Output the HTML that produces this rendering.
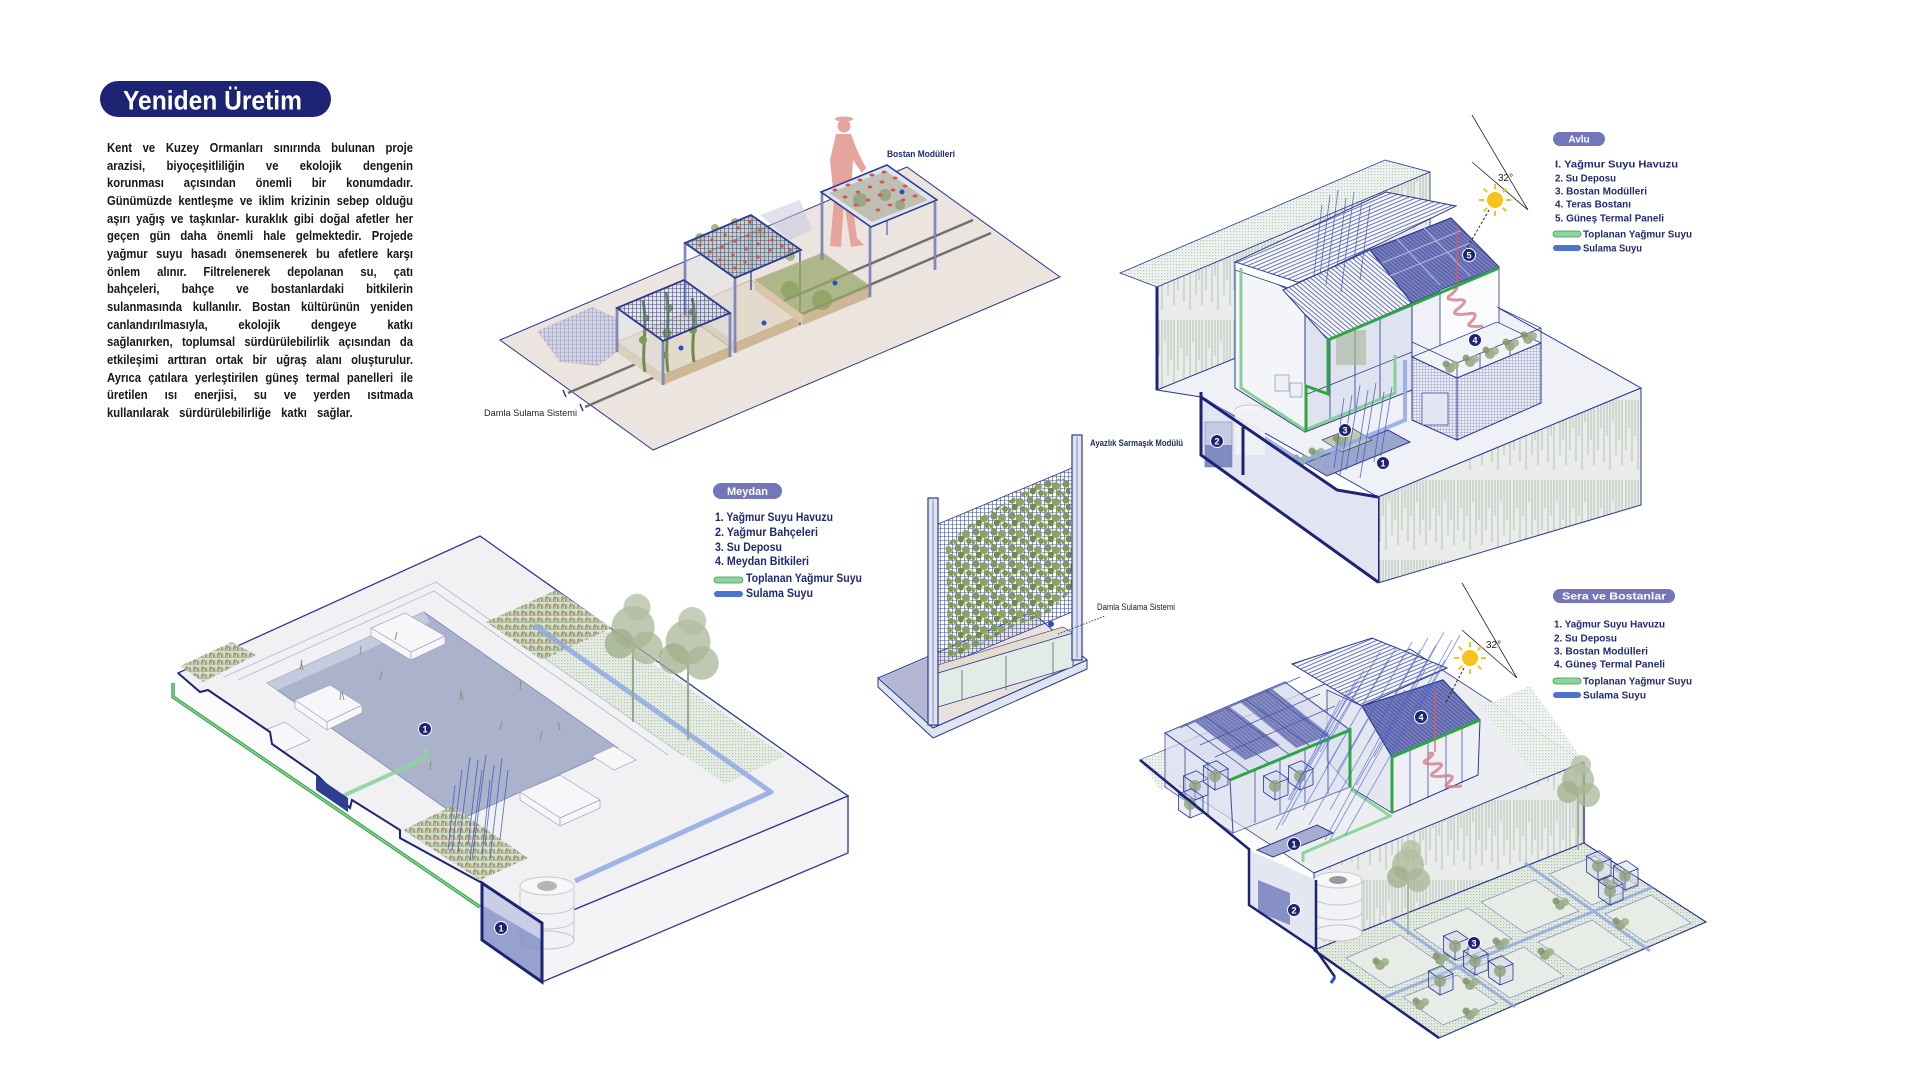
<!DOCTYPE html>
<html lang="tr"><head><meta charset="utf-8"><title>Yeniden Üretim</title>
<style>
html,body{margin:0;padding:0;background:#fff}
body{width:1920px;height:1080px;position:relative;overflow:hidden;font-family:"Liberation Sans",sans-serif}
svg{position:absolute;left:0;top:0}
#para{position:absolute;left:107px;top:140px;width:340px;transform:scaleX(.9);transform-origin:0 0;font-weight:bold;font-size:12.5px;line-height:17.67px;color:#161616}
#para div{display:flex;justify-content:space-between;white-space:nowrap;height:17.67px}
#para div.last{width:273px}
.t{font-family:"Liberation Sans",sans-serif;font-weight:bold}
.lg{fill:#1f2a70;font-family:"Liberation Sans",sans-serif;font-weight:bold}
.b circle{fill:#1c2473;stroke:#fff;stroke-width:1}
.b text{fill:#fff;font:bold 9px "Liberation Sans",sans-serif;text-anchor:middle}
</style></head><body>
<svg width="1920" height="1080" viewBox="0 0 1920 1080" xmlns="http://www.w3.org/2000/svg">
<defs>
<pattern id="mesh" width="4" height="4" patternUnits="userSpaceOnUse"><path d="M0 .5H4M.5 0V4" stroke="#3f4f9a" stroke-width=".6" fill="none"/></pattern>
<pattern id="ivy" width="18" height="16" patternUnits="userSpaceOnUse"><circle cx="4" cy="4" r="3.6" fill="#7d9a58"/><circle cx="12" cy="6" r="4" fill="#8aa463"/><circle cx="7" cy="11" r="3.3" fill="#6f8c4e"/><circle cx="15" cy="13" r="3" fill="#7d9a58"/><circle cx="1" cy="14" r="2.5" fill="#8aa463"/><circle cx="10" cy="12" r="1" fill="#f2c48f"/></pattern>
<pattern id="vines" width="28" height="80" patternUnits="userSpaceOnUse"><rect width="28" height="80" fill="#e9ece9"/><path d="M2 0v50M5 0v28M8 0v62M11 0v36M14 0v70M17 0v22M20 0v55M23 0v40M26 0v65" stroke="#c2cac2" stroke-width="1.3"/></pattern>
<pattern id="dots" width="3" height="3" patternUnits="userSpaceOnUse"><rect width="3" height="3" fill="#eef2ee"/><rect width="1.2" height="1.2" fill="#bccabd"/></pattern>
<pattern id="dots2" width="3" height="3" patternUnits="userSpaceOnUse"><rect width="3" height="3" fill="#e3ebe1"/><rect width="1.2" height="1.2" fill="#aebfaa"/></pattern>
<pattern id="slat" width="3.5" height="3.5" patternUnits="userSpaceOnUse" patternTransform="rotate(-23)"><rect width="3.5" height="3.5" fill="#f7f8fb"/><rect width="3.5" height="1" fill="#6a75b2"/></pattern>
<pattern id="slat2" width="3.5" height="3.5" patternUnits="userSpaceOnUse" patternTransform="rotate(40)"><rect width="3.5" height="3.5" fill="#f7f8fb"/><rect width="3.5" height="1" fill="#6a75b2"/></pattern>
<pattern id="pnl" width="3" height="3" patternUnits="userSpaceOnUse" patternTransform="rotate(40)"><rect width="3" height="3" fill="#5e66ad"/><rect width="3" height=".8" fill="#8c93c9"/></pattern>
<pattern id="brick" width="3" height="3" patternUnits="userSpaceOnUse"><rect width="3" height="3" fill="#eceef6"/><path d="M0 .3H3M.3 0V3" stroke="#9aa0c8" stroke-width=".5"/></pattern>
<pattern id="bed" width="8" height="7" patternUnits="userSpaceOnUse"><rect width="8" height="7" fill="#d7e0cc"/><path d="M1 7l1-5M3 7l0-6M5 7l1-4M7 7l-1-5" stroke="#7f9a6a" stroke-width="1"/><circle cx="4" cy="3" r="1.1" fill="#d98f8c"/><circle cx="7" cy="5" r="1" fill="#e0a6a0"/></pattern>
<g id="cube"><path d="M0 0l13-5.3v-16l-13 5.3zM0 0l-11.5-8v-16l11.5 8zM0-16l13-5.3-11.5-8-13 5.3z" fill="rgba(200,210,235,.35)" stroke="#2b3990" stroke-width=".8"/><circle cx="0" cy="-14" r="6" fill="#8fa07a" opacity=".8"/></g>
<g id="tree"><path d="M0 0V-55" stroke="#9aa68a" stroke-width="1.5"/><circle cx="0" cy="-70" r="16" fill="#a9b596" opacity=".75"/><circle cx="-10" cy="-58" r="11" fill="#9fad8b" opacity=".75"/><circle cx="10" cy="-55" r="12" fill="#a9b596" opacity=".75"/><circle cx="3" cy="-85" r="10" fill="#b3bea1" opacity=".75"/></g>
<g id="shrub"><circle cx="0" cy="0" r="5" fill="#8ea27a" opacity=".85"/><circle cx="5" cy="-3" r="4" fill="#9cb088" opacity=".85"/><circle cx="-4" cy="-4" r="3.5" fill="#7f9468" opacity=".85"/></g>
</defs>

<!-- TITLE -->
<rect x="100" y="81" width="231" height="36" rx="18" fill="#1c2473"/>
<text x="123" y="109.5" class="t" font-size="27" fill="#fff" textLength="179" lengthAdjust="spacingAndGlyphs">Yeniden Üretim</text>

<!-- ================= TOP BOSTAN ================= -->
<polygon points="500,340 907,167 1060,277 653,450" fill="#ebe4df" stroke="#2b3990" stroke-width="1"/>
<polygon points="537,331 592,307 617,318 617,352 598,366 560,362" fill="#c3c6dc" opacity=".6"/>
<polygon points="537,331 592,307 617,318 617,352 598,366 560,362" fill="url(#mesh)" opacity=".35"/>
<polygon points="760,215 800,200 812,230 790,240" fill="#c3c6dc" opacity=".5"/>
<path d="M568,393 L973,220 M585,407 L991,233" stroke="#707070" stroke-width="2.5"/>
<path d="M563,390l3,7M580,404l3,7" stroke="#2b3990" stroke-width="1.5"/>
<text x="484" y="416" font-family="Liberation Sans" font-size="9" fill="#222" textLength="93" lengthAdjust="spacingAndGlyphs">Damla Sulama Sistemi</text>

<!-- module 2 (tall, behind) -->
<polygon points="685,308 751,280 801,315 735,343" fill="#e3dacb" stroke="#b89f7c" stroke-width=".6"/>
<polygon points="685,308 735,343 735,353 685,318" fill="#d9c6a6"/>
<polygon points="735,343 801,315 801,325 735,353" fill="#cdb794"/>
<polygon points="685,243 735,278 735,353 685,318" fill="#dfe3f2" opacity=".3"/>
<path d="M751,217V290M800,252V325" stroke="#2b3990" stroke-width="1.2"/>
<!-- planter 3 -->
<polygon points="755,280 823,253 871,287 803,315" fill="#9aa96b" opacity=".75" stroke="#b89f7c" stroke-width="1"/>
<polygon points="755,280 803,315 803,325 755,290" fill="#d9c6a6"/>
<polygon points="803,315 871,287 871,297 803,325" fill="#cdb794"/>
<circle cx="790" cy="290" r="9" fill="#8a9b5a" opacity=".7"/><circle cx="822" cy="300" r="10" fill="#8a9b5a" opacity=".7"/>
<circle cx="835" cy="283" r="2.5" fill="#2a4fc9"/>
<!-- person -->
<ellipse cx="844" cy="119" rx="9" ry="2.5" fill="#e6a59c"/>
<circle cx="844" cy="126" r="6.5" fill="#e6a59c"/>
<path d="M836,134 L851,134 L857,150 L866,168 L862,173 L853,160 L851,192 L857,238 L864,245 L851,247 L844,202 L841,247 L830,246 L834,200 L830,160 Z" fill="#e6a59c"/>
<!-- module 2 top & legs front -->
<path d="M685,243V318M735,278V353" stroke="#2b3990" stroke-width="2.4"/>
<path d="M685,243V318M735,278V353" stroke="#fff" stroke-width=".8"/>
<g opacity=".9"><circle cx="700" cy="238" r="5" fill="#9bb07a"/><circle cx="715" cy="228" r="4" fill="#9bb07a"/><circle cx="735" cy="222" r="4" fill="#9bb07a"/><circle cx="760" cy="232" r="6" fill="#9bb07a"/><circle cx="790" cy="256" r="5" fill="#9bb07a"/></g>
<polygon points="685,243 751,215 801,250 735,278" fill="#b9c39e" opacity=".7"/>
<polygon points="685,243 751,215 801,250 735,278" fill="url(#mesh)" stroke="#2b3990" stroke-width="1.8"/>
<g fill="#d9534f"><circle cx="700" cy="245" r="1.7"/><circle cx="712" cy="240" r="1.7"/><circle cx="725" cy="235" r="1.7"/><circle cx="738" cy="228" r="1.7"/><circle cx="750" cy="222" r="1.7"/><circle cx="710" cy="252" r="1.7"/><circle cx="722" cy="247" r="1.7"/><circle cx="735" cy="241" r="1.7"/><circle cx="748" cy="236" r="1.7"/><circle cx="760" cy="230" r="1.7"/><circle cx="772" cy="240" r="1.7"/><circle cx="720" cy="260" r="1.7"/><circle cx="733" cy="255" r="1.7"/><circle cx="746" cy="249" r="1.7"/><circle cx="758" cy="244" r="1.7"/><circle cx="770" cy="250" r="1.7"/><circle cx="782" cy="246" r="1.7"/><circle cx="745" cy="262" r="1.7"/><circle cx="758" cy="257" r="1.7"/><circle cx="735" cy="268" r="1.7"/><circle cx="790" cy="250" r="1.7"/></g>
<!-- module 1 -->
<polygon points="617,342 684,314 730,347 663,375" fill="#e3dacb" stroke="#b89f7c" stroke-width=".6"/>
<polygon points="617,342 663,375 663,385 617,352" fill="#d9c6a6"/>
<polygon points="663,375 730,347 730,357 663,385" fill="#cdb794"/>
<polygon points="617,308 663,341 663,385 617,352" fill="#dfe3f2" opacity=".3"/>
<g stroke="#6f8c4e" stroke-width="3" fill="none"><path d="M645,372 C641,350 648,330 643,300"/><path d="M668,372 C664,345 671,320 666,292"/><path d="M694,362 C690,340 698,320 692,298"/></g>
<g fill="#7d9a58"><circle cx="643" cy="340" r="4"/><circle cx="646" cy="318" r="3.5"/><circle cx="667" cy="333" r="4.5"/><circle cx="669" cy="308" r="4"/><circle cx="693" cy="330" r="4"/><circle cx="692" cy="312" r="3.5"/><circle cx="665" cy="355" r="3.5"/></g>
<path d="M617,308V352M663,341V385M730,313V357" stroke="#2b3990" stroke-width="2.4"/>
<path d="M617,308V352M663,341V385M730,313V357" stroke="#fff" stroke-width=".8"/>
<polygon points="617,308 684,280 730,313 663,341" fill="url(#mesh)" stroke="#2b3990" stroke-width="1.8"/>
<circle cx="681" cy="348" r="2.5" fill="#2a4fc9"/><circle cx="764" cy="323" r="2.5" fill="#2a4fc9"/>
<!-- table 4 -->
<path d="M887,167V235" stroke="#8a96c8" stroke-width="2"/>
<path d="M822,192V260M870,227V297M935,202V270" stroke="#2b3990" stroke-width="2.4"/>
<path d="M822,192V260M870,227V297M935,202V270" stroke="#fff" stroke-width=".8"/>
<polygon points="821,192 887,165 937,200 871,227" fill="#dfe4ee" stroke="#2b3990" stroke-width="1.5"/>
<polygon points="829,193 886,171 928,200 872,222" fill="#b4b7a3" opacity=".8"/>
<g fill="#8fa07a" opacity=".8"><circle cx="860" cy="200" r="7"/><circle cx="885" cy="195" r="6"/><circle cx="900" cy="205" r="5"/></g>
<g fill="#d9534f"><ellipse cx="835" cy="190" rx="2.5" ry="1.5"/><ellipse cx="848" cy="185" rx="2.5" ry="1.5"/><ellipse cx="860" cy="180" rx="2.5" ry="1.5"/><ellipse cx="872" cy="175" rx="2.5" ry="1.5"/><ellipse cx="884" cy="172" rx="2.5" ry="1.5"/><ellipse cx="845" cy="197" rx="2.5" ry="1.5"/><ellipse cx="858" cy="192" rx="2.5" ry="1.5"/><ellipse cx="870" cy="187" rx="2.5" ry="1.5"/><ellipse cx="882" cy="182" rx="2.5" ry="1.5"/><ellipse cx="895" cy="178" rx="2.5" ry="1.5"/><ellipse cx="856" cy="205" rx="2.5" ry="1.5"/><ellipse cx="868" cy="200" rx="2.5" ry="1.5"/><ellipse cx="880" cy="195" rx="2.5" ry="1.5"/><ellipse cx="893" cy="190" rx="2.5" ry="1.5"/><ellipse cx="905" cy="186" rx="2.5" ry="1.5"/><ellipse cx="878" cy="210" rx="2.5" ry="1.5"/><ellipse cx="890" cy="205" rx="2.5" ry="1.5"/><ellipse cx="903" cy="200" rx="2.5" ry="1.5"/><ellipse cx="915" cy="196" rx="2.5" ry="1.5"/></g>
<circle cx="902" cy="192" r="2.5" fill="#2a4fc9"/>
<text x="887" y="157" class="lg" font-size="9" textLength="68" lengthAdjust="spacingAndGlyphs">Bostan Modülleri</text>

<!-- ================= VERTICAL MODULE ================= -->
<polygon points="878,678 1032,612 1087,660 933,728" fill="#e9e2dc" stroke="#2b3990" stroke-width="1"/>
<polygon points="880,678 928,658 936,706 925,722" fill="#b3b7d3"/>
<polygon points="878,678 933,728 1087,660 1087,669 933,738 878,687" fill="#dfe5f0" stroke="#2b3990" stroke-width="1"/>
<polygon points="938,524 1072,468 1072,612 938,668" fill="url(#mesh)" stroke="#2b3990" stroke-width=".8"/>
<polygon points="946,545 975,520 1010,500 1045,480 1070,478 1072,590 1050,612 1030,620 1010,628 990,640 965,652 948,660" fill="url(#ivy)"/>
<polygon points="928,668 1063,627 1073,633 938,673" fill="#e5dccf" stroke="#2b3990" stroke-width=".6"/>
<polygon points="938,673 1073,633 1073,667 938,707" fill="#e2ece6" stroke="#2b3990" stroke-width=".8"/>
<path d="M962,670V700M1006,656V690M1053,642V676" stroke="#5a6378" stroke-width=".8"/>
<rect x="928" y="498" width="10" height="227" fill="#dde4ee" stroke="#2b3990" stroke-width="1.2"/>
<path d="M933,500V723" stroke="#2b3990" stroke-width=".5"/>
<rect x="1072" y="435" width="10" height="225" fill="#dde4ee" stroke="#2b3990" stroke-width="1.2"/>
<path d="M1077,437V658" stroke="#2b3990" stroke-width=".5"/>
<circle cx="1051" cy="624" r="3" fill="#2a4fc9"/>
<path d="M1058,634 L1105,616" stroke="#2b3990" stroke-width="1" stroke-dasharray="1.5 1.5"/>
<text x="1090" y="446" class="lg" font-size="9" textLength="93" lengthAdjust="spacingAndGlyphs">Ayazlık Sarmaşık Modülü</text>
<text x="1097" y="610" font-family="Liberation Sans" font-size="9" fill="#222" textLength="78" lengthAdjust="spacingAndGlyphs">Damla Sulama Sistemi</text>

<!-- ================= MEYDAN ================= -->
<path d="M178,673 L480,536 L848,796 L542,923 L482,883 L400,838 L400,830 L352,800 L350,808 L318,776 L272,744 L270,732 L208,690 L200,692 Z" fill="#f1f1f4" stroke="#2b3990" stroke-width="1.3"/>
<polygon points="542,923 848,796 848,853 542,982" fill="#f4f4f6" stroke="#2b3990" stroke-width="1.3"/>
<path d="M224,677 L436,582 L684,756 M238,680 L434,591 L668,755" stroke="#b7bccd" stroke-width=".9" fill="none"/>
<polygon points="505,630 566,603 785,756 725,784" fill="url(#dots2)" opacity=".9"/>
<polygon points="267,683 424,612 618,748 461,819" fill="#aab2cc" stroke="#7d88b5" stroke-width=".8"/>
<polygon points="267,683 424,612 430,622 277,690" fill="#c5cadf"/>
<g fill="#f7f7f9" stroke="#a0a6bd" stroke-width=".7">
<polygon points="295,700 330,685 362,705 327,722"/><polygon points="295,700 327,722 327,730 295,708"/><polygon points="327,722 362,705 362,713 327,730"/>
<polygon points="371,628 405,613 445,636 411,652"/><polygon points="371,628 411,652 411,660 371,636"/><polygon points="411,652 445,636 445,644 411,660"/>
<polygon points="520,792 560,775 600,800 560,818"/><polygon points="520,792 560,818 560,826 520,800"/><polygon points="560,818 600,800 600,808 560,826"/>
<polygon points="592,756 614,746 636,760 614,770"/>
<polygon points="258,733 285,722 310,740 283,752"/>
</g>
<g stroke="#7f9a70" stroke-width="1" fill="none"><path d="M300,670l2,-10M303,670l-2,-9M340,700l1,-9M344,700l-2,-8M380,680l2,-9M460,700l1,-10M463,700l-2,-8M500,730l2,-9M520,690l1,-10M540,740l2,-9M430,770l1,-9M560,730l-2,-8M395,640l2,-8M360,655l1,-9"/></g>
<polygon points="180,666 232,642 256,655 203,682" fill="url(#bed)"/>
<polygon points="486,622 556,590 612,628 542,660" fill="url(#bed)"/>
<polygon points="403,830 452,806 528,858 480,880" fill="url(#bed)"/>
<path d="M426,749 L426,758 L334,800" stroke="#8ed49c" stroke-width="4" fill="none" opacity=".9"/>
<path d="M534,625 L771,792 L575,881" stroke="#8fa9e3" stroke-width="5" fill="none" stroke-linejoin="round" opacity=".85"/>
<use href="#tree" transform="translate(633,722) scale(1.35)"/>
<use href="#tree" transform="translate(688,740) scale(1.4)"/>
<path d="M470,757l-12,95M478,760l-10,85M486,755l-14,105M494,765l-9,80M502,758l-12,100M462,770l-10,80M455,785l-7,65M508,770l-8,70M482,770l-12,90M490,780l-8,75" stroke="#3d56b8" stroke-width=".9" opacity=".8"/>
<path d="M178,673 L200,692 L208,690 L270,732 L272,744 L318,776 L350,808 L352,800 L400,830 L400,838 L482,883 L482,905 L173,697 L173,680 Z" fill="#fbfbfc"/>
<path d="M178,673 L200,692 L208,690 L270,732 L272,744 L318,776 L350,808 L352,800 L400,830 L400,838 L482,883" stroke="#1c2473" stroke-width="2" fill="none"/>
<polygon points="316,776 348,798 348,812 316,790" fill="#2d3d8f"/>
<path d="M173,683 V697 L480,907" stroke="#3aa64a" stroke-width="3.5" fill="none"/>
<path d="M173,683 V697 L480,907" stroke="#a6e2b1" stroke-width="1" fill="none"/>
<!-- tank -->
<rect x="520" y="886" width="54" height="54" fill="#f2f2f5"/>
<ellipse cx="547" cy="940" rx="27" ry="9" fill="#f2f2f5" stroke="#c0c3d0"/>
<path d="M520,905a27,9 0 0 0 54,0M520,920a27,9 0 0 0 54,0M520,890V940M574,890V940" stroke="#c6c8d2" fill="none"/>
<ellipse cx="547" cy="886" rx="27" ry="9" fill="#f7f7f9" stroke="#c8c8d0"/>
<ellipse cx="547" cy="886" rx="10" ry="5" fill="#b5b5b8"/>
<polygon points="482,883 542,923 542,982 482,940" fill="#8590c6" opacity=".85"/>
<polygon points="482,883 542,923 542,940 482,905" fill="#c9cee6"/>
<polygon points="482,883 542,923 542,982 482,940" fill="none" stroke="#1c2473" stroke-width="3"/>
<g class="b"><circle cx="425" cy="729" r="6.5"/><text x="425" y="732.3">1</text></g>
<g class="b"><circle cx="501" cy="928" r="6.5"/><text x="501" y="931.3">1</text></g>
<!-- Meydan legend -->
<rect x="713" y="483" width="69" height="16" rx="8" fill="#7376b8"/>
<text x="747.5" y="495" class="t" font-size="11" fill="#fff" text-anchor="middle">Meydan</text>
<text x="715" y="521" class="lg" font-size="11.5" textLength="118" lengthAdjust="spacingAndGlyphs">1. Yağmur Suyu Havuzu</text>
<text x="715" y="536" class="lg" font-size="11.5" textLength="103" lengthAdjust="spacingAndGlyphs">2. Yağmur Bahçeleri</text>
<text x="715" y="551" class="lg" font-size="11.5" textLength="67" lengthAdjust="spacingAndGlyphs">3. Su Deposu</text>
<text x="715" y="565" class="lg" font-size="11.5" textLength="94" lengthAdjust="spacingAndGlyphs">4. Meydan Bitkileri</text>
<rect x="714" y="577" width="29" height="6" rx="3" fill="#8ed49c" stroke="#3a9a4a" stroke-width=".8"/>
<text x="746" y="582" class="lg" font-size="11.5" textLength="116" lengthAdjust="spacingAndGlyphs">Toplanan Yağmur Suyu</text>
<rect x="714" y="591" width="29" height="6" rx="3" fill="#4a74d0"/>
<text x="746" y="597" class="lg" font-size="11.5" textLength="67" lengthAdjust="spacingAndGlyphs">Sulama Suyu</text>

<!-- ================= AVLU ================= -->
<polygon points="1120,273 1385,160 1430,172 1157,287" fill="url(#dots)" stroke="#2b3990" stroke-width=".8"/>
<polygon points="1157,287 1430,172 1430,285 1157,390" fill="url(#vines)" stroke="#2b3990" stroke-width=".8"/>
<path d="M1157,287V390" stroke="#1c2473" stroke-width="3"/>
<polygon points="1157,390 1440,275 1641,388 1378,497 1201,397" fill="#eff1f6" stroke="#2b3990" stroke-width="1"/>
<!-- house -->
<polygon points="1235,263 1305,298 1305,432 1235,388" fill="#f4f5f9" stroke="#2b3990" stroke-width="1"/>
<polygon points="1305,298 1412,253 1412,390 1305,432" fill="#dfe3ef" stroke="#2b3990" stroke-width="1"/>
<path d="M1330,340V420M1355,330V410M1380,318V400M1305,395L1412,352" stroke="#2b3990" stroke-width=".8"/>
<rect x="1336" y="330" width="30" height="35" fill="#a9b596" opacity=".6"/>
<polygon points="1235,262 1386,192 1456,206 1300,283" fill="url(#slat)" stroke="#2b3990" stroke-width="1"/>
<polygon points="1235,262 1300,283 1300,292 1235,270" fill="#fff" stroke="#2b3990" stroke-width=".8"/>
<polygon points="1283,290 1370,250 1412,303 1328,340" fill="url(#slat2)" stroke="#2b3990" stroke-width="1"/>
<polygon points="1370,250 1451,218 1499,267 1412,303" fill="url(#pnl)" stroke="#2b3990" stroke-width="1.2"/>
<path d="M1397,239L1440,285M1424,228L1470,276M1390,276L1470,243M1382,263L1460,231" stroke="#b5bae0" stroke-width="1"/>
<polygon points="1440,290 1499,267 1499,330 1440,355" fill="#fafbfd" stroke="#2b3990" stroke-width=".8"/>
<path d="M1457,225V285" stroke="#e05a5a" stroke-width="1.2"/>
<path d="M1452,288 q10,-4 0,6 q-10,6 5,6 q14,-2 2,8 q-12,8 8,6 q14,-3 4,8 q-8,6 12,4" stroke="#d57a86" stroke-width="3" fill="none" opacity=".8"/>
<!-- terrace -->
<polygon points="1412,357 1497,322 1541,343 1457,378" fill="#f2f3f7" stroke="#2b3990" stroke-width=".8"/>
<polygon points="1412,357 1457,378 1457,440 1412,420" fill="url(#brick)" stroke="#2b3990" stroke-width="1"/>
<polygon points="1457,378 1541,343 1541,403 1457,440" fill="url(#brick)" stroke="#2b3990" stroke-width="1"/>
<rect x="1422" y="393" width="26" height="32" fill="#e3e7f2" stroke="#2b3990" stroke-width=".7"/>
<path d="M1412,342L1457,363L1541,328M1497,307L1541,328M1457,363V378M1541,328V343M1480,353V368M1510,340V355" stroke="#2b3990" stroke-width=".8" fill="none"/>
<g><use href="#shrub" x="1470" y="362"/><use href="#shrub" x="1490" y="354"/><use href="#shrub" x="1510" y="346"/><use href="#shrub" x="1528" y="339"/><use href="#shrub" x="1450" y="368"/></g>
<!-- courtyard -->
<polygon points="1305,463 1388,430 1410,442 1327,476" fill="#9aa6cc" stroke="#2b3990" stroke-width="1"/>
<polygon points="1322,440 1352,428 1372,440 1342,452" fill="#c2c9b0" stroke="#2b3990" stroke-width=".7"/>
<g><use href="#shrub" x="1340" y="442"/><use href="#shrub" x="1316" y="455"/><use href="#shrub" x="1300" y="462"/></g>
<rect x="1275" y="375" width="14" height="16" fill="#eef0f5" stroke="#8a92c0" stroke-width=".7"/>
<rect x="1290" y="383" width="12" height="14" fill="#eef0f5" stroke="#8a92c0" stroke-width=".7"/>
<path d="M1205,400 L1302,462 L1340,446 M1330,452 L1405,420 L1405,360" stroke="#8fa9e3" stroke-width="4" fill="none" opacity=".85"/>
<path d="M1241,268 V388 L1305,430 L1395,393 L1395,355" stroke="#86d096" stroke-width="3" fill="none"/>
<path d="M1499,268 L1328,340 L1328,394 L1306,386 L1306,432" stroke="#2fa544" stroke-width="3" fill="none"/>
<path d="M1330,195l-10,80M1338,190l-12,95M1346,198l-9,70M1354,192l-13,100M1362,200l-8,60M1322,205l-8,70M1370,205l-10,75M1360,385l-14,85M1368,390l-12,75M1376,383l-16,95M1384,392l-10,70M1352,395l-12,80M1392,387l-13,80M1344,398l-10,70" stroke="#3d56b8" stroke-width=".9" opacity=".75"/>
<!-- right wall -->
<polygon points="1378,497 1641,388 1641,505 1378,583" fill="url(#vines)" stroke="#2b3990" stroke-width="1"/>
<path d="M1378,497V583" stroke="#1c2473" stroke-width="3"/>
<!-- basement section -->
<polygon points="1201,397 1337,490 1378,497 1378,583 1201,455" fill="#e2e5f1"/>
<rect x="1205" y="422" width="27" height="45" fill="#c4cae4" stroke="#8a92c0" stroke-width=".7"/>
<rect x="1205" y="445" width="27" height="22" fill="#6f7bb8" opacity=".8"/>
<ellipse cx="1250" cy="410" rx="15" ry="5" fill="#f5f5f7" stroke="#c8c8d0"/>
<rect x="1235" y="410" width="30" height="45" fill="#f2f2f5" opacity=".9"/>
<path d="M1201,392V455L1378,582M1201,397L1337,490L1378,497M1243,427V475" stroke="#1c2473" stroke-width="3" fill="none"/>
<g class="b"><circle cx="1383" cy="463" r="6.5"/><text x="1383" y="466.3">1</text></g>
<g class="b"><circle cx="1217" cy="441" r="6.5"/><text x="1217" y="444.3">2</text></g>
<g class="b"><circle cx="1345" cy="430" r="6.5"/><text x="1345" y="433.3">3</text></g>
<g class="b"><circle cx="1475" cy="340" r="6.5"/><text x="1475" y="343.3">4</text></g>
<g class="b"><circle cx="1469" cy="255" r="6.5"/><text x="1469" y="258.3">5</text></g>
<!-- sun -->
<path d="M1472,115 L1528,210 M1472,162 L1528,210" stroke="#222" stroke-width=".8"/>
<path d="M1489,210 L1466,250" stroke="#222" stroke-width="1" stroke-dasharray="2.5 2"/>
<g transform="translate(1495,200)"><circle r="8" fill="#f7c31a"/><path d="M0-11V-16M0 11V16M11 0H16M-11 0H-16M7.8-7.8L11.3-11.3M7.8 7.8L11.3 11.3M-7.8 7.8L-11.3 11.3M-7.8-7.8L-11.3-11.3" stroke="#f7c31a" stroke-width="2"/></g>
<text x="1498" y="181" font-family="Liberation Sans" font-size="10" fill="#222">32°</text>
<!-- Avlu legend -->
<rect x="1553" y="132" width="52" height="14" rx="7" fill="#7376b8"/>
<text x="1579" y="142.5" class="t" font-size="10" fill="#fff" text-anchor="middle">Avlu</text>
<text x="1555" y="167.5" class="lg" font-size="10" textLength="123" lengthAdjust="spacingAndGlyphs">I. Yağmur Suyu Havuzu</text>
<text x="1555" y="181.5" class="lg" font-size="10" textLength="61" lengthAdjust="spacingAndGlyphs">2. Su Deposu</text>
<text x="1555" y="194.5" class="lg" font-size="10" textLength="92" lengthAdjust="spacingAndGlyphs">3. Bostan Modülleri</text>
<text x="1555" y="207.5" class="lg" font-size="10" textLength="76" lengthAdjust="spacingAndGlyphs">4. Teras Bostanı</text>
<text x="1555" y="221.5" class="lg" font-size="10" textLength="109" lengthAdjust="spacingAndGlyphs">5. Güneş Termal Paneli</text>
<rect x="1553" y="231" width="28" height="6" rx="3" fill="#8ed49c" stroke="#3a9a4a" stroke-width=".8"/>
<text x="1583" y="237.5" class="lg" font-size="10" textLength="109" lengthAdjust="spacingAndGlyphs">Toplanan Yağmur Suyu</text>
<rect x="1553" y="245" width="28" height="6" rx="3" fill="#4a74d0"/>
<text x="1583" y="251.5" class="lg" font-size="10" textLength="59" lengthAdjust="spacingAndGlyphs">Sulama Suyu</text>

<!-- ================= SERA ================= -->
<polygon points="1140,760 1410,649 1584,762 1314,873" fill="#eceef1" stroke="#2b3990" stroke-width=".8"/>
<polygon points="1480,707 1530,686 1584,762 1540,780" fill="url(#dots)" opacity=".9"/>
<polygon points="1140,760 1165,750 1180,785 1160,790" fill="url(#dots)" opacity=".9"/>
<!-- house -->
<polygon points="1292,664 1372,638 1447,668 1362,706" fill="url(#slat)" stroke="#2b3990" stroke-width="1"/>
<polygon points="1327,690 1362,706 1392,757 1392,813 1350,787 1327,760" fill="#e4e7f0" stroke="#2b3990" stroke-width=".8"/>
<polygon points="1362,706 1443,680 1480,720 1392,757" fill="url(#pnl)" stroke="#2b3990" stroke-width="1.2"/>
<polygon points="1392,757 1480,720 1478,775 1392,813" fill="#eef0f6" stroke="#2b3990" stroke-width="1"/>
<path d="M1410,750V806M1428,742V798M1446,735V790M1462,728V783" stroke="#2b3990" stroke-width=".7"/>
<path d="M1392,813V757L1480,720" stroke="#2fa544" stroke-width="3" fill="none"/>
<path d="M1435,690V752" stroke="#e05a5a" stroke-width="1.2"/>
<path d="M1428,754 q10,-3 0,5 q-10,5 6,5 q14,-2 2,7 q-12,7 8,5 q14,-2 4,7 q-8,5 14,3" stroke="#d57a86" stroke-width="3" fill="none" opacity=".8"/>
<!-- greenhouse -->
<polygon points="1165,733 1285,682 1350,730 1230,780" fill="#d7dcee" opacity=".8" stroke="#2b3990" stroke-width="1.2"/>
<polygon points="1195,722 1230,707 1280,745 1245,760" fill="url(#pnl)" opacity=".85"/>
<polygon points="1240,702 1272,689 1330,735 1296,748" fill="url(#pnl)" opacity=".85"/>
<path d="M1185,724L1250,772M1205,716L1270,764M1225,707L1290,755M1245,699L1310,746M1265,690L1330,738M1180,728L1300,677M1200,745L1320,694M1215,757L1335,706" stroke="#4a58a0" stroke-width=".8"/>
<polygon points="1165,733 1230,780 1233,833 1165,787" fill="#dde2f1" opacity=".7" stroke="#2b3990" stroke-width="1"/>
<polygon points="1230,780 1350,730 1350,787 1233,833" fill="#dde2f1" opacity=".6" stroke="#2b3990" stroke-width="1"/>
<path d="M1255,770V823M1280,760V813M1305,750V803M1328,740V794M1185,748V800M1208,762V816" stroke="#2b3990" stroke-width=".7"/>
<g><use href="#cube" x="1195" y="800"/><use href="#cube" x="1215" y="790"/><use href="#cube" x="1190" y="818"/><use href="#cube" x="1275" y="800"/><use href="#cube" x="1300" y="790"/></g>
<path d="M1230,780L1350,730V787" stroke="#2fa544" stroke-width="3" fill="none"/>
<path d="M1352,787 L1352,790 L1390,816 L1303,853 L1303,862" stroke="#8ed49c" stroke-width="3" fill="none"/>
<!-- pool -->
<polygon points="1257,850 1317,825 1333,833 1273,857" fill="#a5aed0" stroke="#2b3990" stroke-width="1"/>
<path d="M1140,760 L1250,850" stroke="#1c2473" stroke-width="2.5"/>
<!-- retaining wall -->
<polygon points="1314,873 1584,762 1584,843 1314,950" fill="url(#vines)" stroke="#2b3990" stroke-width="1"/>
<path d="M1584,762V843" stroke="#2b3990" stroke-width="1.5"/>
<!-- garden -->
<polygon points="1314,950 1584,843 1706,922 1439,1038" fill="url(#dots2)" stroke="#2b3990" stroke-width="1.2"/>
<g fill="#e8ece6" stroke="#7f8ec4" stroke-width=".7">
<polygon points="1346,958 1400,935 1444,966 1390,988"/><polygon points="1414,930 1468,908 1512,939 1458,961"/><polygon points="1481,902 1535,880 1579,911 1525,933"/><polygon points="1549,874 1595,856 1638,886 1592,905"/>
<polygon points="1403,997 1457,975 1497,1003 1443,1025"/><polygon points="1470,970 1524,947 1564,976 1510,998"/><polygon points="1538,942 1592,920 1632,948 1578,970"/><polygon points="1605,914 1651,895 1691,923 1645,942"/>
</g>
<path d="M1383,998 L1653,887 M1390,919 L1515,1007 M1525,863 L1650,951" stroke="#7f9de0" stroke-width="3" opacity=".7"/>
<g><use href="#shrub" x="1380" y="965"/><use href="#shrub" x="1420" y="1005"/><use href="#shrub" x="1470" y="985"/><use href="#shrub" x="1500" y="945"/><use href="#shrub" x="1545" y="955"/><use href="#shrub" x="1560" y="905"/><use href="#shrub" x="1620" y="925"/><use href="#shrub" x="1610" y="885"/><use href="#shrub" x="1440" y="960"/><use href="#shrub" x="1470" y="1015"/></g>
<g><use href="#cube" x="1455" y="960"/><use href="#cube" x="1475" y="975"/><use href="#cube" x="1440" y="995"/><use href="#cube" x="1500" y="985"/><use href="#cube" x="1598" y="880"/><use href="#cube" x="1625" y="890"/><use href="#cube" x="1610" y="905"/></g>
<use href="#tree" x="1408" y="935"/>
<use href="#tree" x="1578" y="850"/>
<path d="M1314,950 L1439,1038" stroke="#1c2473" stroke-width="2.5"/>
<!-- section & tank -->
<rect x="1314" y="880" width="48" height="53" fill="#f2f2f5"/>
<ellipse cx="1338" cy="933" rx="24" ry="8" fill="#f2f2f5" stroke="#c0c3d0"/>
<path d="M1314,897a24,8 0 0 0 48,0M1314,912a24,8 0 0 0 48,0M1314,880V933M1362,880V933" stroke="#c6c8d2" fill="none"/>
<ellipse cx="1338" cy="880" rx="24" ry="8" fill="#f7f7f9" stroke="#c8c8d0"/>
<ellipse cx="1338" cy="880" rx="9" ry="4" fill="#9a9a9e"/>
<polygon points="1249,850 1316,880 1316,950 1249,905" fill="#e4e7f2"/>
<polygon points="1258,880 1290,893 1290,925 1258,912" fill="#6f7bb8" opacity=".8"/>
<path d="M1249,850V905L1316,950V880M1316,950L1335,977" stroke="#1c2473" stroke-width="2.5" fill="none"/>
<path d="M1335,977 l-4,6" stroke="#2a4fc9" stroke-width="3"/>
<path d="M1460,635l-50,90M1452,640l-60,110M1444,632l-70,125M1436,645l-80,140M1428,638l-60,105M1420,650l-90,160M1412,642l-75,130M1404,655l-95,170M1396,648l-70,120M1388,660l-85,150M1380,652l-60,100M1372,665l-90,160M1364,670l-70,120M1356,680l-80,150M1348,690l-60,110M1340,700l-50,100M1445,660l-100,175M1425,670l-95,170M1405,690l-80,150" stroke="#4a63c4" stroke-width=".8" opacity=".7"/>
<g class="b"><circle cx="1294" cy="844" r="6.5"/><text x="1294" y="847.3">1</text></g>
<g class="b"><circle cx="1294" cy="910" r="6.5"/><text x="1294" y="913.3">2</text></g>
<g class="b"><circle cx="1474" cy="943" r="6.5"/><text x="1474" y="946.3">3</text></g>
<g class="b"><circle cx="1421" cy="717" r="6.5"/><text x="1421" y="720.3">4</text></g>
<path d="M1462,583 L1517,678 M1462,630 L1517,678" stroke="#222" stroke-width=".8"/>
<path d="M1464,668 L1446,702" stroke="#222" stroke-width="1" stroke-dasharray="2.5 2"/>
<g transform="translate(1470,658)"><circle r="8" fill="#f7c31a"/><path d="M0-11V-16M0 11V16M11 0H16M-11 0H-16M7.8-7.8L11.3-11.3M7.8 7.8L11.3 11.3M-7.8 7.8L-11.3 11.3M-7.8-7.8L-11.3-11.3" stroke="#f7c31a" stroke-width="2"/></g>
<text x="1486" y="648" font-family="Liberation Sans" font-size="10" fill="#222">32°</text>
<!-- Sera legend -->
<rect x="1553" y="589" width="122" height="14" rx="7" fill="#7376b8"/>
<text x="1614" y="599.5" class="t" font-size="10" fill="#fff" text-anchor="middle" textLength="104" lengthAdjust="spacingAndGlyphs">Sera ve Bostanlar</text>
<text x="1554" y="627.5" class="lg" font-size="10" textLength="111" lengthAdjust="spacingAndGlyphs">1. Yağmur Suyu Havuzu</text>
<text x="1554" y="641.5" class="lg" font-size="10" textLength="63" lengthAdjust="spacingAndGlyphs">2. Su Deposu</text>
<text x="1554" y="654.5" class="lg" font-size="10" textLength="94" lengthAdjust="spacingAndGlyphs">3. Bostan Modülleri</text>
<text x="1554" y="667.5" class="lg" font-size="10" textLength="111" lengthAdjust="spacingAndGlyphs">4. Güneş Termal Paneli</text>
<rect x="1553" y="678" width="28" height="6" rx="3" fill="#8ed49c" stroke="#3a9a4a" stroke-width=".8"/>
<text x="1583" y="684.5" class="lg" font-size="10" textLength="109" lengthAdjust="spacingAndGlyphs">Toplanan Yağmur Suyu</text>
<rect x="1553" y="692" width="28" height="6" rx="3" fill="#4a74d0"/>
<text x="1583" y="698.5" class="lg" font-size="10" textLength="63" lengthAdjust="spacingAndGlyphs">Sulama Suyu</text>
</svg>

<div id="para">
<div><span>Kent</span><span>ve</span><span>Kuzey</span><span>Ormanları</span><span>sınırında</span><span>bulunan</span><span>proje</span></div>
<div><span>arazisi,</span><span>biyoçeşitliliğin</span><span>ve</span><span>ekolojik</span><span>dengenin</span></div>
<div><span>korunması</span><span>açısından</span><span>önemli</span><span>bir</span><span>konumdadır.</span></div>
<div><span>Günümüzde</span><span>kentleşme</span><span>ve</span><span>iklim</span><span>krizinin</span><span>sebep</span><span>olduğu</span></div>
<div><span>aşırı</span><span>yağış</span><span>ve</span><span>taşkınlar-</span><span>kuraklık</span><span>gibi</span><span>doğal</span><span>afetler</span><span>her</span></div>
<div><span>geçen</span><span>gün</span><span>daha</span><span>önemli</span><span>hale</span><span>gelmektedir.</span><span>Projede</span></div>
<div><span>yağmur</span><span>suyu</span><span>hasadı</span><span>önemsenerek</span><span>bu</span><span>afetlere</span><span>karşı</span></div>
<div><span>önlem</span><span>alınır.</span><span>Filtrelenerek</span><span>depolanan</span><span>su,</span><span>çatı</span></div>
<div><span>bahçeleri,</span><span>bahçe</span><span>ve</span><span>bostanlardaki</span><span>bitkilerin</span></div>
<div><span>sulanmasında</span><span>kullanılır.</span><span>Bostan</span><span>kültürünün</span><span>yeniden</span></div>
<div><span>canlandırılmasıyla,</span><span>ekolojik</span><span>dengeye</span><span>katkı</span></div>
<div><span>sağlanırken,</span><span>toplumsal</span><span>sürdürülebilirlik</span><span>açısından</span><span>da</span></div>
<div><span>etkileşimi</span><span>arttıran</span><span>ortak</span><span>bir</span><span>uğraş</span><span>alanı</span><span>oluşturulur.</span></div>
<div><span>Ayrıca</span><span>çatılara</span><span>yerleştirilen</span><span>güneş</span><span>termal</span><span>panelleri</span><span>ile</span></div>
<div><span>üretilen</span><span>ısı</span><span>enerjisi,</span><span>su</span><span>ve</span><span>yerden</span><span>ısıtmada</span></div>
<div class="last"><span>kullanılarak</span><span>sürdürülebilirliğe</span><span>katkı</span><span>sağlar.</span></div>
</div>
</body></html>
